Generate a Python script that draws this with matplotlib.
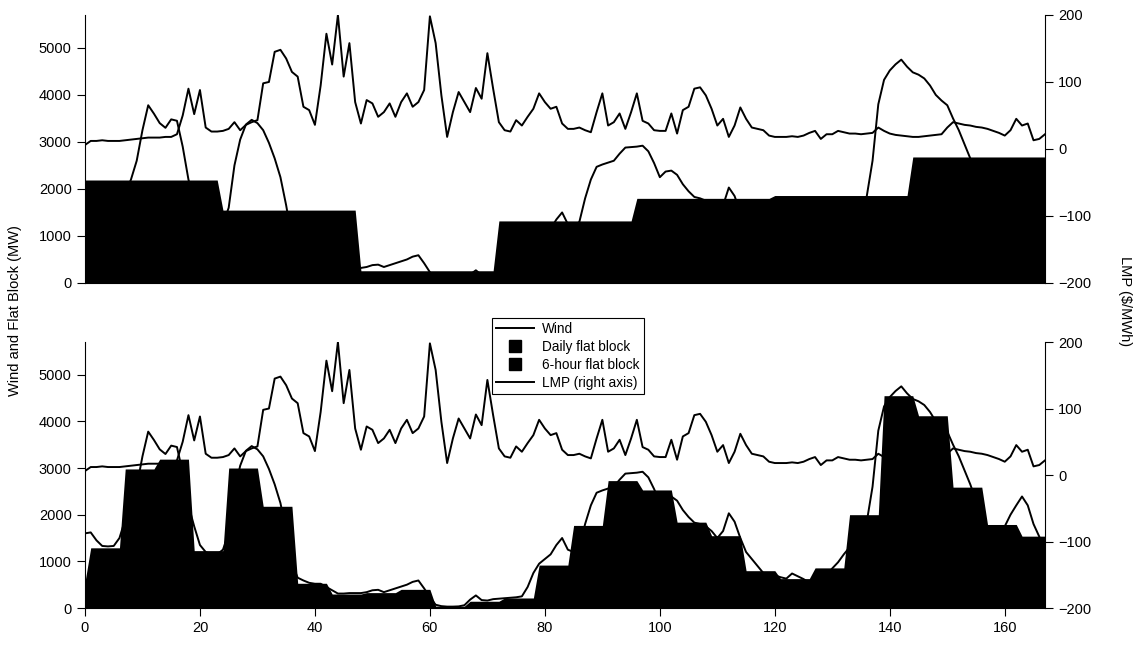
import numpy as np
import matplotlib.pyplot as plt
from matplotlib.lines import Line2D

plt.rcParams['font.family'] = ['Liberation Sans', 'DejaVu Sans']

# hour of the week
hours = np.arange(168)

# wind output (MW)
wind = [1600, 1620, 1450, 1330, 1320, 1330, 1500, 1900, 2200, 2600,
        3250, 3780, 3600, 3400, 3300, 3480, 3450, 2900, 2200, 1750,
        1350, 1200, 1150, 1150, 1250, 1600, 2500, 3050, 3370, 3470,
        3400, 3250, 2980, 2650, 2250, 1650, 950, 650, 590, 540,
        520, 520, 450, 380, 310, 310, 320, 320, 320, 340,
        380, 390, 340, 380, 420, 460, 500, 560, 590, 420,
        230, 70, 40, 30, 30, 35, 60, 180, 270, 170,
        160, 190, 200, 210, 220, 230, 250, 450, 750, 950,
        1050, 1150, 1350, 1500, 1250, 1200, 1300, 1800, 2200, 2470,
        2520, 2560, 2600, 2750, 2880, 2890, 2900, 2920, 2800, 2550,
        2250, 2370, 2390, 2300, 2100, 1950, 1830, 1800, 1750, 1650,
        1500, 1650, 2030, 1850, 1500, 1200, 1050, 900, 750, 720,
        700, 660, 630, 740, 680, 620, 540, 570, 650, 700,
        850, 980, 1150, 1300, 1450, 1600, 1850, 2600, 3800, 4320,
        4520, 4650, 4750, 4600, 4480, 4430, 4350, 4200, 4000, 3880,
        3780, 3500, 3250, 2950, 2650, 2300, 1950, 1650, 1500, 1500,
        1750, 2000, 2200, 2390, 2200, 1800, 1530, 1250]

# LMP ($/MWh)
lmp = [6, 12, 12, 13, 12, 12, 12, 13, 14, 15,
       16, 17, 17, 17, 18, 18, 22, 50, 90, 52,
       88, 32, 26, 26, 27, 30, 40, 28, 36, 40,
       43, 98, 100, 145, 148, 135, 115, 108, 63, 58,
       36, 95, 172, 126, 200, 108, 158, 70, 38, 73,
       68, 48, 55, 68, 48, 70, 83, 63, 70, 88,
       198, 158, 80, 18, 55, 85, 70, 55, 91, 75,
       143, 90, 40, 28, 26, 43, 35, 48, 60, 83,
       70, 60, 63, 38, 30, 30, 32, 28, 25, 55,
       83, 35, 40, 53, 30, 55, 83, 42, 38, 28,
       27, 27, 53, 23, 58, 63, 90, 92, 80, 60,
       35, 45, 18, 35, 62, 45, 32, 30, 28, 20,
       18, 18, 18, 19, 18, 20, 24, 27, 15, 22,
       22, 27, 25, 23, 23, 22, 23, 24, 32, 27,
       23, 21, 20, 19, 18, 18, 19, 20, 21, 22,
       32, 40, 38, 36, 35, 33, 32, 30, 27, 24,
       20, 28, 45, 35, 38, 13, 15, 22]

# flat block levels (MW)
daily_levels = [2190, 1550, 260, 1320, 1800, 1860, 2680]
six_hour_first = 560
six_hour_levels = [1290, 2980, 3190, 1230, 3000, 2180, 530, 300,
                   330, 400, 40, 145, 215, 920, 1770, 2730,
                   2530, 1840, 1550, 800, 630, 860, 2000, 4550,
                   4120, 2590, 1790, 1540]

daily = np.repeat(daily_levels, 24)
six_hour = np.concatenate([[six_hour_first], np.repeat(six_hour_levels, 6)])[:168]

fig = plt.figure(figsize=(11.36, 6.48), dpi=100)
ax_top = fig.add_axes([0.0748, 0.5633, 0.8451, 0.4136])
ax_bot = fig.add_axes([0.0748, 0.0617, 0.8451, 0.4105])


def draw_panel(ax, block, show_x):
    ax.fill_between(hours, 0, block, color='black', lw=0)
    ax.plot(hours, wind, color='black', lw=1.4)
    ax.set_xlim(0, 167)
    ax.set_ylim(0, 5700)
    ax.set_yticks(range(0, 5001, 1000))
    ax.tick_params(axis='y', length=6, labelsize=10.5)
    ax.spines['top'].set_visible(False)
    ax.spines['right'].set_visible(False)
    if show_x:
        ax.set_xticks(range(0, 161, 20))
        ax.tick_params(axis='x', length=6, labelsize=10.5)
    else:
        ax.tick_params(axis='x', bottom=False, labelbottom=False)

    axr = ax.twinx()
    axr.plot(hours, lmp, color='black', lw=1.4)
    axr.set_ylim(-200, 200)
    axr.set_yticks([-200, -100, 0, 100, 200])
    axr.tick_params(axis='y', length=6, labelsize=10.5)
    for s in ['top', 'left', 'bottom']:
        axr.spines[s].set_visible(False)
    return axr


draw_panel(ax_top, daily, False)
draw_panel(ax_bot, six_hour, True)

fig.text(0.013, 0.52, 'Wind and Flat Block (MW)', rotation=90,
         ha='center', va='center', fontsize=10.5)
fig.text(0.99, 0.535, 'LMP ($/MWh)', rotation=270,
         ha='center', va='center', fontsize=10.5)

handles = [
    Line2D([], [], color='black', lw=1.4),
    Line2D([], [], color='black', marker='s', markersize=8, linestyle='none'),
    Line2D([], [], color='black', marker='s', markersize=8, linestyle='none'),
    Line2D([], [], color='black', lw=1.4),
]
labels = ['Wind', 'Daily flat block', '6-hour flat block', 'LMP (right axis)']
leg = fig.legend(handles, labels, loc='upper left',
                 bbox_to_anchor=(0.433, 0.51), fontsize=9.8,
                 frameon=True, fancybox=False, framealpha=1,
                 edgecolor='black', handlelength=2.8, labelspacing=0.3,
                 borderpad=0.3, handletextpad=0.6, borderaxespad=0)
leg.get_frame().set_linewidth(0.8)

fig.savefig('out.png', dpi=100)
